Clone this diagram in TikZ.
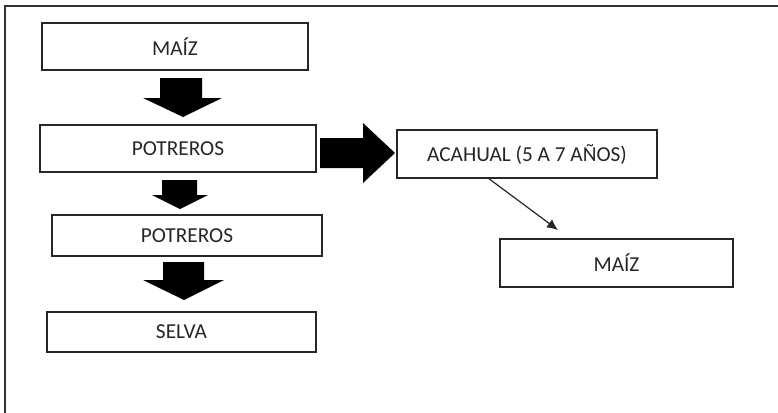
\documentclass[tikz,border=0pt]{standalone}
\usepackage{fontspec}
\setmainfont{Carlito}
\usetikzlibrary{arrows.meta}
\begin{document}
\begin{tikzpicture}[x=1pt,y=-1pt,
  box/.style={draw=black!85,line width=1.6pt,fill=white,inner sep=0pt,
    font=\fontsize{21.3}{25}\selectfont,text=black!85},
  blockarrow/.style={fill=black,draw=none},
  thinarrow/.style={draw=black!85,line width=1.2pt,-{Latex[length=11pt,width=10pt]}}]
  \useasboundingbox (0,0) rectangle (778,412);
  \clip (0,0) rectangle (778,412);
  % outer frame (left and top edges)
  \draw[black!80,line width=1.8pt] (5,420) -- (5,6) -- (790,6);

  % boxes
  \node[box,minimum width=266pt,minimum height=47pt] (maiz1) at (175,46.5) {MAÍZ};
  \node[box,minimum width=276pt,minimum height=47pt] (potr1) at (178,148.5) {POTREROS};
  \node[box,minimum width=270pt,minimum height=41pt] (potr2) at (187,235.5) {POTREROS};
  \node[box,minimum width=269pt,minimum height=40pt] (selva) at (181.5,332) {SELVA};
  \node[box,minimum width=260pt,minimum height=48pt] (acah) at (527,154) {ACAHUAL (5 A 7 AÑOS)};
  \node[box,minimum width=233pt,minimum height=48pt] (maiz2) at (616.5,263) {MAÍZ};

  % block arrows down the left column
  \fill[blockarrow] (160,78) -- (202,78) -- (202,98) -- (222,98) -- (183,117)
    -- (143,98) -- (160,98) -- cycle;
  \fill[blockarrow] (162,180) -- (197,180) -- (197,195) -- (208,195) -- (180,209)
    -- (152,195) -- (162,195) -- cycle;
  \fill[blockarrow] (163,262) -- (204,262) -- (204,280) -- (224,280) -- (184,300)
    -- (143,280) -- (163,280) -- cycle;
  % block arrow to the right
  \fill[blockarrow] (320,138) -- (363,138) -- (363,123) -- (395,153) -- (363,183)
    -- (363,168) -- (320,168) -- cycle;

  % thin arrow from ACAHUAL to MAÍZ
  \coordinate (t1) at (488,178);
  \coordinate (t2) at (558,230);
  \draw[thinarrow] (t1) -- (t2);
\end{tikzpicture}
\end{document}
